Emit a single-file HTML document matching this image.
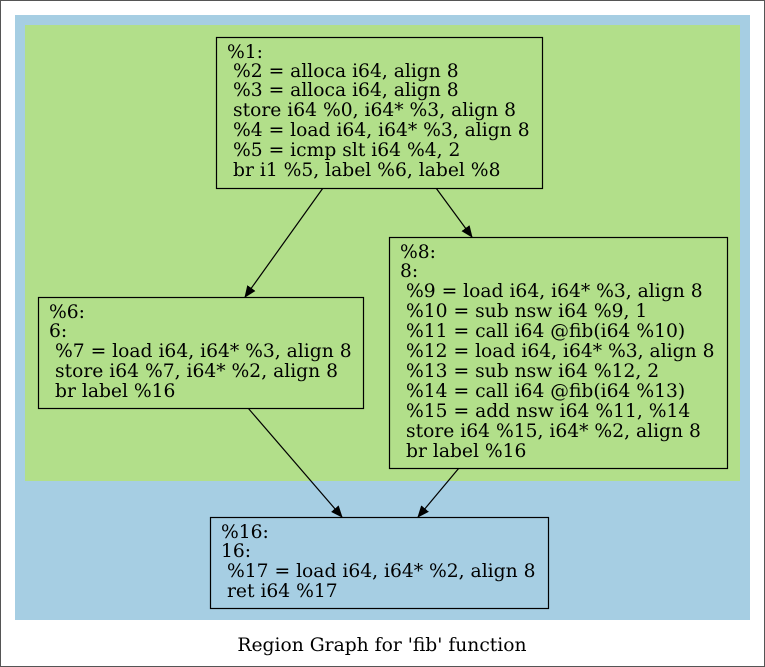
<!DOCTYPE html>
<html><head><style>
html,body{margin:0;padding:0;background:#fff;}
svg{display:block;}
text{font-family:"DejaVu Serif","Liberation Serif",serif;font-size:18.7px;fill:#000;}
</style></head><body>
<svg width="765" height="667" viewBox="0 0 765 667" xmlns="http://www.w3.org/2000/svg">
<rect x="0.5" y="0.5" width="764" height="666" fill="#fff" stroke="#555" stroke-width="1"/>
<rect x="15" y="15" width="735" height="605" fill="#a6cee3"/>
<rect x="25" y="25" width="715" height="456" fill="#b2df8a"/>
<defs><marker id="a" markerWidth="12" markerHeight="10" refX="11" refY="5" orient="auto" markerUnits="userSpaceOnUse"><path d="M0,0 L12,5 L0,10 z" fill="#000"/></marker></defs>
<g stroke="#000" stroke-width="1.2" fill="none">
<line x1="323" y1="188" x2="245" y2="297" marker-end="url(#a)"/>
<line x1="436" y1="188" x2="472" y2="237" marker-end="url(#a)"/>
<line x1="248" y1="408" x2="342" y2="517" marker-end="url(#a)"/>
<line x1="459" y1="468" x2="418" y2="517" marker-end="url(#a)"/>
</g>
<g stroke="#000" stroke-width="1.2">
<rect x="216.5" y="37.5" width="326" height="151" fill="#b2df8a"/>
<rect x="38.5" y="297.5" width="325" height="111" fill="#b2df8a"/>
<rect x="389.5" y="237.5" width="338" height="231" fill="#b2df8a"/>
<rect x="210.5" y="517.5" width="338" height="91" fill="#a6cee3"/>
</g>
<g>
<text x="227" y="58">%1:</text>
<text x="233" y="77">%2 = alloca i64, align 8</text>
<text x="233" y="96">%3 = alloca i64, align 8</text>
<text x="233" y="116">store i64 %0, i64* %3, align 8</text>
<text x="233" y="136">%4 = load i64, i64* %3, align 8</text>
<text x="233" y="156">%5 = icmp slt i64 %4, 2</text>
<text x="233" y="176">br i1 %5, label %6, label %8</text>

<text x="49" y="318">%6:</text>
<text x="49" y="337">6:</text>
<text x="55" y="357">%7 = load i64, i64* %3, align 8</text>
<text x="55" y="377">store i64 %7, i64* %2, align 8</text>
<text x="55" y="397">br label %16</text>

<text x="400" y="258">%8:</text>
<text x="400" y="277">8:</text>
<text x="406" y="297">%9 = load i64, i64* %3, align 8</text>
<text x="406" y="317">%10 = sub nsw i64 %9, 1</text>
<text x="406" y="337">%11 = call i64 @fib(i64 %10)</text>
<text x="406" y="357">%12 = load i64, i64* %3, align 8</text>
<text x="406" y="377">%13 = sub nsw i64 %12, 2</text>
<text x="406" y="397">%14 = call i64 @fib(i64 %13)</text>
<text x="406" y="417">%15 = add nsw i64 %11, %14</text>
<text x="406" y="437">store i64 %15, i64* %2, align 8</text>
<text x="406" y="457">br label %16</text>

<text x="221" y="538">%16:</text>
<text x="221" y="557">16:</text>
<text x="227" y="577">%17 = load i64, i64* %2, align 8</text>
<text x="227" y="597">ret i64 %17</text>

<text x="382" y="651" text-anchor="middle">Region Graph for 'fib' function</text>
</g>
</svg>
</body></html>
